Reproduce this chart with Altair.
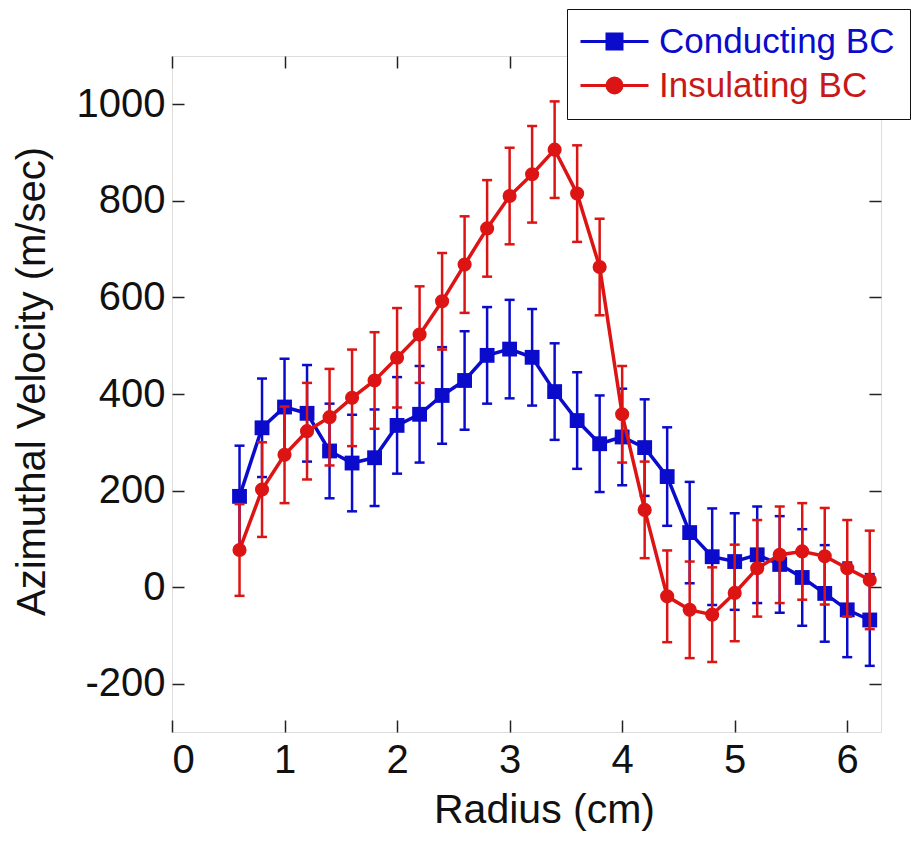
import altair as alt
import pandas as pd

radius = [0.6, 0.8, 1.0, 1.2, 1.4, 1.6, 1.8, 2.0, 2.2, 2.4, 2.6, 2.8, 3.0, 3.2, 3.4,
          3.6, 3.8, 4.0, 4.2, 4.4, 4.6, 4.8, 5.0, 5.2, 5.4, 5.6, 5.8, 6.0, 6.2]
conducting = [188, 330, 373, 360, 282, 257, 268, 335, 358, 397, 428, 480, 493, 476, 405,
              345, 297, 311, 289, 229, 113, 63, 53, 67, 47, 20, -13, -47, -68]
insulating = [77, 202, 274, 323, 352, 392, 428, 475, 523, 592, 668, 743, 810, 855, 906,
              815, 663, 358, 160, -19, -47, -57, -12, 39, 67, 74, 64, 39, 15]
conducting_err = [105, 102, 100, 100, 98, 100, 100, 100, 100, 100, 102, 100, 102, 100, 100,
                  100, 100, 100, 100, 102, 105, 100, 100, 100, 100, 100, 100, 98, 95]
insulating_err = [95, 98, 100, 100, 100, 100, 100, 103, 100, 100, 100, 100, 100, 100, 100,
                  100, 100, 100, 100, 95, 100, 98, 100, 100, 100, 100, 100, 100, 102]

series_names = ["Conducting BC", "Insulating BC"]
series_colors = ["#0b0bcc", "#dd1414"]
x_ticks = [0, 1, 2, 3, 4, 5, 6]
y_ticks = [-200, 0, 200, 400, 600, 800, 1000]

rows = []
for name, vals, errs in [(series_names[0], conducting, conducting_err),
                         (series_names[1], insulating, insulating_err)]:
    for r, v, e in zip(radius, vals, errs):
        rows.append({"radius": r, "velocity": v, "lo": v - e, "hi": v + e, "series": name})
df = pd.DataFrame(rows)

FONT = "Arial, Liberation Sans, sans-serif"
W, H = 709, 676

xs = alt.Scale(domain=[0, 6.3], nice=False, zero=False)
ys = alt.Scale(domain=[-300, 1100], nice=False, zero=False)

x_main = alt.X("radius:Q", scale=xs,
               axis=alt.Axis(title="Radius (cm)", values=x_ticks, orient="bottom",
                             labelExpr="'' + datum.value",
                             offset=-12, tickSize=12, tickWidth=1.5, tickColor="#222",
                             domain=False, grid=False, labelPadding=8, labelFontSize=40,
                             titleFontSize=41, titleFontWeight="normal", titlePadding=10,
                             titleX=372, labelFont=FONT, titleFont=FONT,
                             labelColor="#111", titleColor="#111"))
y_main = alt.Y("velocity:Q", scale=ys,
               axis=alt.Axis(title="Azimuthal Velocity (m/sec)",
                             values=y_ticks, orient="left",
                             labelExpr="'' + datum.value",
                             offset=-12, tickSize=12, tickWidth=1.5, tickColor="#222",
                             domain=False, grid=False, labelPadding=7, labelFontSize=40,
                             titleFontSize=40, titleFontWeight="normal", titlePadding=24,
                             titleY=325, labelFont=FONT, titleFont=FONT,
                             labelColor="#111", titleColor="#111"))


def series_layers(idx, shape, size):
    name = series_names[idx]
    color = series_colors[idx]
    base = alt.Chart(df).transform_filter(alt.datum.series == name)
    bars = base.mark_rule(color=color, strokeWidth=2.5, opacity=1).encode(
        x=alt.X("radius:Q", scale=xs), y=alt.Y("lo:Q", scale=ys), y2="hi:Q")
    cap_lo = base.mark_tick(color=color, orient="horizontal", size=10, thickness=2.5,
                            opacity=1).encode(
        x=alt.X("radius:Q", scale=xs), y=alt.Y("lo:Q", scale=ys))
    cap_hi = base.mark_tick(color=color, orient="horizontal", size=10, thickness=2.5,
                            opacity=1).encode(
        x=alt.X("radius:Q", scale=xs), y=alt.Y("hi:Q", scale=ys))
    line = base.mark_line(color=color, strokeWidth=3.5).encode(
        x=alt.X("radius:Q", scale=xs), y=alt.Y("velocity:Q", scale=ys))
    pts = base.mark_point(shape=shape, size=size, filled=True, opacity=1, color=color).encode(
        x=alt.X("radius:Q", scale=xs), y=alt.Y("velocity:Q", scale=ys))
    return [bars, cap_lo, cap_hi, line, pts]


# legend glyphs: a line with the series marker in its middle (size 400 -> 10 px per unit)
sq_path = "M-3.4,0H3.4M-0.75,-0.75H0.75V0.75H-0.75Z"
ci_path = "M-3.4,0H3.4M0.75,0A0.75,0.75,0,1,1,-0.75,0A0.75,0.75,0,1,1,0.75,0Z"

legend_layer = alt.Chart(df).transform_filter("false").mark_point(
    filled=False, strokeWidth=3, size=400, opacity=1, fillOpacity=1, strokeOpacity=1).encode(
    x=alt.X("radius:Q", scale=xs, axis=None),
    y=alt.Y("velocity:Q", scale=ys, axis=None),
    stroke=alt.Stroke("series:N", scale=alt.Scale(domain=series_names, range=series_colors),
                      legend=alt.Legend(title=None, orient="none", legendX=395, legendY=-47,
                                        labelFontSize=35, labelFont=FONT, labelLimit=500,
                                        labelColor={"expr": "datum.value == 'Conducting BC' ? '#0b0bcc' : '#c81818'"},
                                        symbolSize=400, symbolStrokeWidth=3,
                                        symbolOffset=15, labelOffset=27,
                                        fillColor="white", strokeColor="#111",
                                        padding=15, rowPadding=8,
                                        symbolOpacity=1)),
    fill=alt.Fill("series:N", scale=alt.Scale(domain=series_names, range=series_colors)),
    shape=alt.Shape("series:N", scale=alt.Scale(domain=series_names, range=[sq_path, ci_path])),
)

main = alt.layer(
    alt.Chart(df).mark_point(opacity=0).encode(x=x_main, y=y_main),
    *series_layers(0, "square", 220),
    *series_layers(1, "circle", 200),
)

frame_axes = alt.Chart(df).mark_point(opacity=0).encode(
    x=alt.X("radius:Q", scale=xs,
            axis=alt.Axis(title=None, orient="top", values=x_ticks, offset=-12,
                          tickSize=12, tickWidth=1.5, tickColor="#222", labels=False,
                          domain=False, grid=False)),
    y=alt.Y("velocity:Q", scale=ys,
            axis=alt.Axis(title=None, orient="right", values=y_ticks, offset=-12,
                          tickSize=12, tickWidth=1.5, tickColor="#222", labels=False,
                          domain=False, grid=False)),
)

chart = alt.layer(main, frame_axes, legend_layer).resolve_axis(
    x="independent", y="independent"
).properties(
    width=W, height=H,
    autosize=alt.AutoSizeParams(type="none"),
    padding={"left": 164, "top": 48, "right": 32, "bottom": 110},
).configure_view(
    stroke="#222", strokeWidth=1.5
).configure(background="white")

chart.save("out.html", embed_options={"renderer": "svg", "actions": False})
